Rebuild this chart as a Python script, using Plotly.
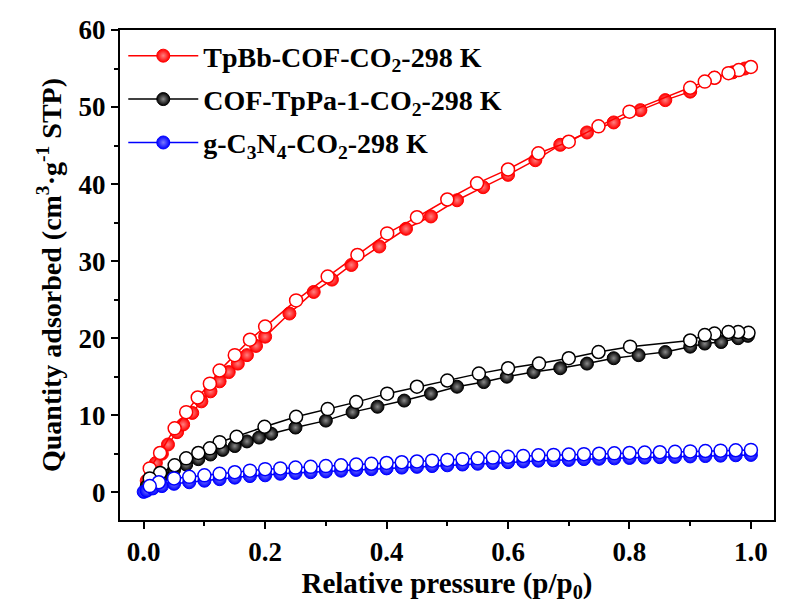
import plotly.graph_objects as go

# ---------------- data ----------------
red_ads_x = [0.005, 0.012, 0.02, 0.03, 0.04, 0.055, 0.065, 0.08, 0.095, 0.11, 0.125, 0.14, 0.155, 0.17, 0.185, 0.2,
             0.24, 0.28, 0.31, 0.342, 0.388, 0.432, 0.473, 0.516, 0.559, 0.6, 0.645, 0.686, 0.73, 0.774, 0.818,
             0.859, 0.9, 0.94, 0.97, 0.99]
red_ads_y = [1.5, 2.5, 3.8, 5.0, 6.2, 7.8, 8.8, 10.3, 11.8, 13.1, 14.4, 15.6, 16.7, 17.8, 19.0, 20.2,
             23.2, 26.0, 27.6, 29.5, 31.9, 34.2, 35.8, 37.9, 39.6, 41.2, 43.1, 45.1, 46.7, 48.0, 49.6,
             50.9, 52.0, 53.8, 54.5, 55.0]
red_des_x = [1.0, 0.98, 0.963, 0.94, 0.924, 0.9, 0.8, 0.749, 0.7, 0.65, 0.6, 0.549, 0.5, 0.45, 0.401, 0.352,
             0.303, 0.251, 0.2, 0.175, 0.15, 0.125, 0.109, 0.089, 0.07, 0.051, 0.027, 0.01]
red_des_y = [55.2, 54.8, 54.4, 53.8, 53.3, 52.5, 49.4, 47.5, 45.5, 44.0, 41.9, 40.1, 38.0, 35.7, 33.6, 30.8,
             28.0, 24.9, 21.5, 19.8, 17.8, 15.8, 14.1, 12.3, 10.4, 8.3, 5.1, 3.1]

blk_ads_x = [0.005, 0.015, 0.03, 0.05, 0.07, 0.09, 0.11, 0.13, 0.15, 0.17, 0.19, 0.21, 0.25, 0.3, 0.344, 0.385,
             0.429, 0.473, 0.516, 0.56, 0.598, 0.642, 0.686, 0.73, 0.774, 0.815, 0.859, 0.9, 0.924, 0.951,
             0.979, 0.995]
blk_ads_y = [0.8, 1.5, 2.2, 2.9, 3.6, 4.3, 4.9, 5.5, 6.0, 6.6, 7.1, 7.6, 8.4, 9.3, 10.4, 11.1,
             11.9, 12.8, 13.7, 14.3, 15.0, 15.6, 16.1, 16.7, 17.4, 17.8, 18.2, 18.9, 19.3, 19.5,
             20.0, 20.3]
blk_des_x = [0.996, 0.979, 0.963, 0.94, 0.924, 0.9, 0.801, 0.749, 0.7, 0.651, 0.6, 0.552, 0.5, 0.45, 0.401,
             0.35, 0.303, 0.251, 0.199, 0.153, 0.125, 0.109, 0.09, 0.07, 0.051, 0.027, 0.01]
blk_des_y = [20.7, 20.8, 20.8, 20.6, 20.4, 19.7, 18.9, 18.2, 17.4, 16.7, 16.1, 15.4, 14.5, 13.7, 12.8,
             11.7, 10.8, 9.8, 8.5, 7.2, 6.5, 5.7, 5.1, 4.4, 3.5, 2.5, 1.8]

blu_ads_x = [0.0, 0.005, 0.015, 0.03, 0.05, 0.075, 0.1, 0.125, 0.15, 0.175, 0.2, 0.225, 0.25, 0.275, 0.3,
             0.325, 0.35, 0.375, 0.4, 0.425, 0.45, 0.475, 0.5, 0.525, 0.55, 0.575, 0.6, 0.625, 0.65, 0.675,
             0.7, 0.725, 0.75, 0.775, 0.8, 0.825, 0.85, 0.875, 0.9, 0.925, 0.95, 0.975, 1.0]
blu_ads_y = [0.05, 0.2, 0.5, 0.8, 1.1, 1.3, 1.5, 1.7, 1.9, 2.1, 2.2, 2.4, 2.5, 2.6, 2.7,
             2.8, 2.9, 3.0, 3.1, 3.2, 3.3, 3.4, 3.5, 3.6, 3.7, 3.8, 3.9, 4.0, 4.1, 4.15,
             4.2, 4.3, 4.35, 4.4, 4.45, 4.5, 4.55, 4.6, 4.65, 4.7, 4.75, 4.8, 4.85]
blu_des_x = [1.0, 0.975, 0.95, 0.925, 0.9, 0.875, 0.85, 0.825, 0.8, 0.775, 0.75, 0.725, 0.7, 0.675, 0.65,
             0.625, 0.6, 0.575, 0.55, 0.525, 0.5, 0.475, 0.45, 0.425, 0.4, 0.375, 0.35, 0.325, 0.3, 0.275,
             0.25, 0.225, 0.2, 0.175, 0.15, 0.125, 0.1, 0.075, 0.05, 0.025, 0.01]
blu_des_y = [5.5, 5.45, 5.4, 5.35, 5.3, 5.25, 5.2, 5.15, 5.1, 5.05, 5.0, 4.95, 4.9, 4.85, 4.8,
             4.7, 4.6, 4.5, 4.4, 4.3, 4.2, 4.1, 4.0, 3.9, 3.8, 3.7, 3.6, 3.5, 3.4, 3.3,
             3.2, 3.1, 3.0, 2.8, 2.6, 2.4, 2.2, 2.0, 1.8, 1.3, 0.8]

names = ["TpBb-COF-CO<sub>2</sub>-298 K", "COF-TpPa-1-CO<sub>2</sub>-298 K",
         "g-C<sub>3</sub>N<sub>4</sub>-CO<sub>2</sub>-298 K"]
colors = ["#ff0000", "#000000", "#0000ff"]
highlights = ["#ff8080", "#8a8a8a", "#7a7aff"]

x_ticks = [0.0, 0.2, 0.4, 0.6, 0.8, 1.0]
x_tick_text = ["0.0", "0.2", "0.4", "0.6", "0.8", "1.0"]
y_ticks = [0, 10, 20, 30, 40, 50, 60]

FONT = "Liberation Serif"

fig = go.Figure()
series = [(red_ads_x, red_ads_y, red_des_x, red_des_y),
          (blk_ads_x, blk_ads_y, blk_des_x, blk_des_y),
          (blu_ads_x, blu_ads_y, blu_des_x, blu_des_y)]

for i, (ax, ay, dx, dy) in enumerate(series):
    fig.add_trace(go.Scatter(
        x=ax, y=ay, mode="lines+markers", name=names[i], legendgroup=f"g{i}",
        line=dict(color=colors[i], width=1.5),
        marker=dict(size=13, color=colors[i], line=dict(color=colors[i], width=1),
                    gradient=dict(type="radial", color=highlights[i])),
    ))
for i, (ax, ay, dx, dy) in enumerate(series):
    fig.add_trace(go.Scatter(
        x=dx, y=dy, mode="lines+markers", showlegend=False, legendgroup=f"g{i}",
        line=dict(color=colors[i], width=1.5),
        marker=dict(size=13, color="white", line=dict(color=colors[i], width=1.5)),
    ))

axis_common = dict(
    showline=True, linecolor="black", linewidth=2, mirror=True,
    ticks="outside", ticklen=7, tickwidth=2, tickcolor="black",
    showgrid=False, zeroline=False,
    tickfont=dict(family=FONT, size=27, color="black", weight="bold"),
)

fig.update_xaxes(
    range=[-0.039, 1.038], tickvals=x_ticks, ticktext=x_tick_text,
    minor=dict(dtick=0.1, tick0=0, ticks="outside", ticklen=4, tickwidth=2, tickcolor="black"),
    title=dict(text="<b>Relative pressure (p/p<sub>0</sub>)</b>",
               font=dict(family=FONT, size=29, color="black"), standoff=6),
    **axis_common,
)
fig.update_yaxes(
    range=[-3.6, 60], tickvals=y_ticks,
    minor=dict(dtick=5, tick0=0, ticks="outside", ticklen=4, tickwidth=2, tickcolor="black"),
    title=dict(text="<b>Quantity adsorbed (cm<sup>3</sup>·g<sup>-1</sup> STP)</b>",
               font=dict(family=FONT, size=28, color="black"), standoff=9),
    **axis_common,
)

fig.update_layout(
    width=785, height=603,
    margin=dict(l=120, r=9, t=30, b=83),
    paper_bgcolor="white", plot_bgcolor="white",
    legend=dict(x=0.005, y=0.998, xanchor="left", yanchor="top",
                bgcolor="rgba(0,0,0,0)", tracegroupgap=4, itemwidth=70,
                font=dict(family=FONT, size=28, color="black", weight="bold")),
)

fig.write_html("out.html")
